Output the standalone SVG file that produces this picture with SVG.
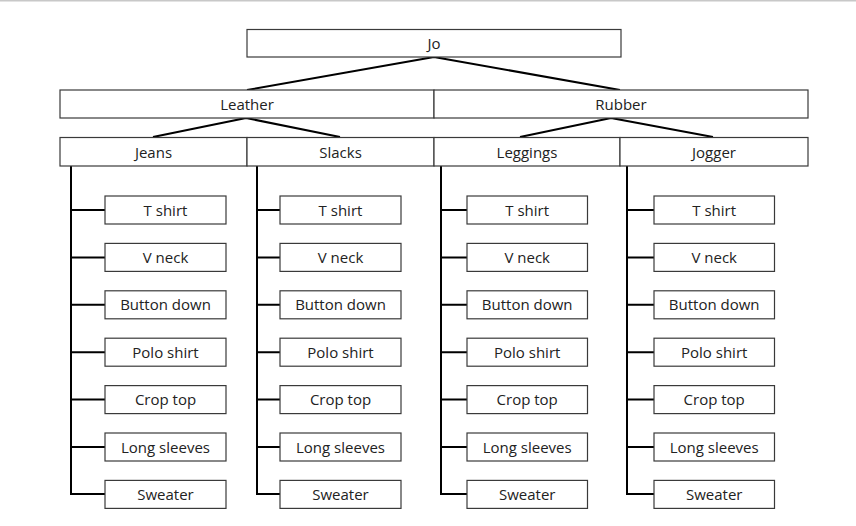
<svg xmlns="http://www.w3.org/2000/svg" width="856" height="526" viewBox="0 0 856 526">
<defs>
<style>
.box{fill:#fff;stroke:#3a3a3a;stroke-width:1.2}
.t{font-family:"Open Sans","Noto Sans",sans-serif;font-size:15px;fill:#222;text-anchor:middle}
.c{stroke:#000;stroke-width:2;fill:none}
</style>
</defs>
<rect width="856" height="526" fill="#fff"/>
<line x1="0" y1="0.5" x2="856" y2="0.5" stroke="#c8c8c8" stroke-width="2"/>
<g id="connectors">
<path class="c" d="M434 57 L247 90 M434 57 L620 90"/>
<path class="c" d="M246 118 L153 137 M246 118 L340 137"/>
<path class="c" d="M611 118 L520 137 M611 118 L713 137"/>
<path class="c" d="M71 166 V494 H105 M71 210 H105 M71 257.4 H105 M71 304.8 H105 M71 352.2 H105 M71 399.6 H105 M71 447 H105"/>
<path class="c" d="M257 166 V494 H280 M257 210 H280 M257 257.4 H280 M257 304.8 H280 M257 352.2 H280 M257 399.6 H280 M257 447 H280"/>
<path class="c" d="M441 166 V494 H467 M441 210 H467 M441 257.4 H467 M441 304.8 H467 M441 352.2 H467 M441 399.6 H467 M441 447 H467"/>
<path class="c" d="M627 166 V494 H654 M627 210 H654 M627 257.4 H654 M627 304.8 H654 M627 352.2 H654 M627 399.6 H654 M627 447 H654"/>
</g>
<g id="jo"><rect class="box" x="247" y="29.5" width="374" height="27.5"/><text class="t" x="434" y="48.5">Jo</text></g>
<g id="leather"><rect class="box" x="60" y="90" width="374" height="28"/><text class="t" x="247" y="109.5">Leather</text></g>
<g id="rubber"><rect class="box" x="434" y="90" width="374" height="28"/><text class="t" x="621" y="109.5">Rubber</text></g>
<g id="jeans"><rect class="box" x="60" y="137.5" width="187" height="28.5"/><text class="t" x="153.5" y="157.5">Jeans</text></g>
<g id="slacks"><rect class="box" x="247" y="137.5" width="187" height="28.5"/><text class="t" x="340.5" y="157.5">Slacks</text></g>
<g id="leggings"><rect class="box" x="434" y="137.5" width="186" height="28.5"/><text class="t" x="527" y="157.5">Leggings</text></g>
<g id="jogger"><rect class="box" x="620" y="137.5" width="188" height="28.5"/><text class="t" x="714" y="157.5">Jogger</text></g>

<g id="jeans-tshirt"><rect class="box" x="105" y="196" width="121" height="28"/><text class="t" x="165.5" y="215.5">T shirt</text></g>
<g id="jeans-vneck"><rect class="box" x="105" y="243.4" width="121" height="28"/><text class="t" x="165.5" y="262.9">V neck</text></g>
<g id="jeans-button"><rect class="box" x="105" y="290.8" width="121" height="28"/><text class="t" x="165.5" y="310.3">Button down</text></g>
<g id="jeans-polo"><rect class="box" x="105" y="338.2" width="121" height="28"/><text class="t" x="165.5" y="357.7">Polo shirt</text></g>
<g id="jeans-crop"><rect class="box" x="105" y="385.6" width="121" height="28"/><text class="t" x="165.5" y="405.1">Crop top</text></g>
<g id="jeans-long"><rect class="box" x="105" y="433" width="121" height="28"/><text class="t" x="165.5" y="452.5">Long sleeves</text></g>
<g id="jeans-sweater"><rect class="box" x="105" y="480.4" width="121" height="28"/><text class="t" x="165.5" y="499.9">Sweater</text></g>

<g id="slacks-tshirt"><rect class="box" x="280" y="196" width="121" height="28"/><text class="t" x="340.5" y="215.5">T shirt</text></g>
<g id="slacks-vneck"><rect class="box" x="280" y="243.4" width="121" height="28"/><text class="t" x="340.5" y="262.9">V neck</text></g>
<g id="slacks-button"><rect class="box" x="280" y="290.8" width="121" height="28"/><text class="t" x="340.5" y="310.3">Button down</text></g>
<g id="slacks-polo"><rect class="box" x="280" y="338.2" width="121" height="28"/><text class="t" x="340.5" y="357.7">Polo shirt</text></g>
<g id="slacks-crop"><rect class="box" x="280" y="385.6" width="121" height="28"/><text class="t" x="340.5" y="405.1">Crop top</text></g>
<g id="slacks-long"><rect class="box" x="280" y="433" width="121" height="28"/><text class="t" x="340.5" y="452.5">Long sleeves</text></g>
<g id="slacks-sweater"><rect class="box" x="280" y="480.4" width="121" height="28"/><text class="t" x="340.5" y="499.9">Sweater</text></g>

<g id="leggings-tshirt"><rect class="box" x="467" y="196" width="120.5" height="28"/><text class="t" x="527.2" y="215.5">T shirt</text></g>
<g id="leggings-vneck"><rect class="box" x="467" y="243.4" width="120.5" height="28"/><text class="t" x="527.2" y="262.9">V neck</text></g>
<g id="leggings-button"><rect class="box" x="467" y="290.8" width="120.5" height="28"/><text class="t" x="527.2" y="310.3">Button down</text></g>
<g id="leggings-polo"><rect class="box" x="467" y="338.2" width="120.5" height="28"/><text class="t" x="527.2" y="357.7">Polo shirt</text></g>
<g id="leggings-crop"><rect class="box" x="467" y="385.6" width="120.5" height="28"/><text class="t" x="527.2" y="405.1">Crop top</text></g>
<g id="leggings-long"><rect class="box" x="467" y="433" width="120.5" height="28"/><text class="t" x="527.2" y="452.5">Long sleeves</text></g>
<g id="leggings-sweater"><rect class="box" x="467" y="480.4" width="120.5" height="28"/><text class="t" x="527.2" y="499.9">Sweater</text></g>

<g id="jogger-tshirt"><rect class="box" x="654" y="196" width="120.5" height="28"/><text class="t" x="714.2" y="215.5">T shirt</text></g>
<g id="jogger-vneck"><rect class="box" x="654" y="243.4" width="120.5" height="28"/><text class="t" x="714.2" y="262.9">V neck</text></g>
<g id="jogger-button"><rect class="box" x="654" y="290.8" width="120.5" height="28"/><text class="t" x="714.2" y="310.3">Button down</text></g>
<g id="jogger-polo"><rect class="box" x="654" y="338.2" width="120.5" height="28"/><text class="t" x="714.2" y="357.7">Polo shirt</text></g>
<g id="jogger-crop"><rect class="box" x="654" y="385.6" width="120.5" height="28"/><text class="t" x="714.2" y="405.1">Crop top</text></g>
<g id="jogger-long"><rect class="box" x="654" y="433" width="120.5" height="28"/><text class="t" x="714.2" y="452.5">Long sleeves</text></g>
<g id="jogger-sweater"><rect class="box" x="654" y="480.4" width="120.5" height="28"/><text class="t" x="714.2" y="499.9">Sweater</text></g>
</svg>
